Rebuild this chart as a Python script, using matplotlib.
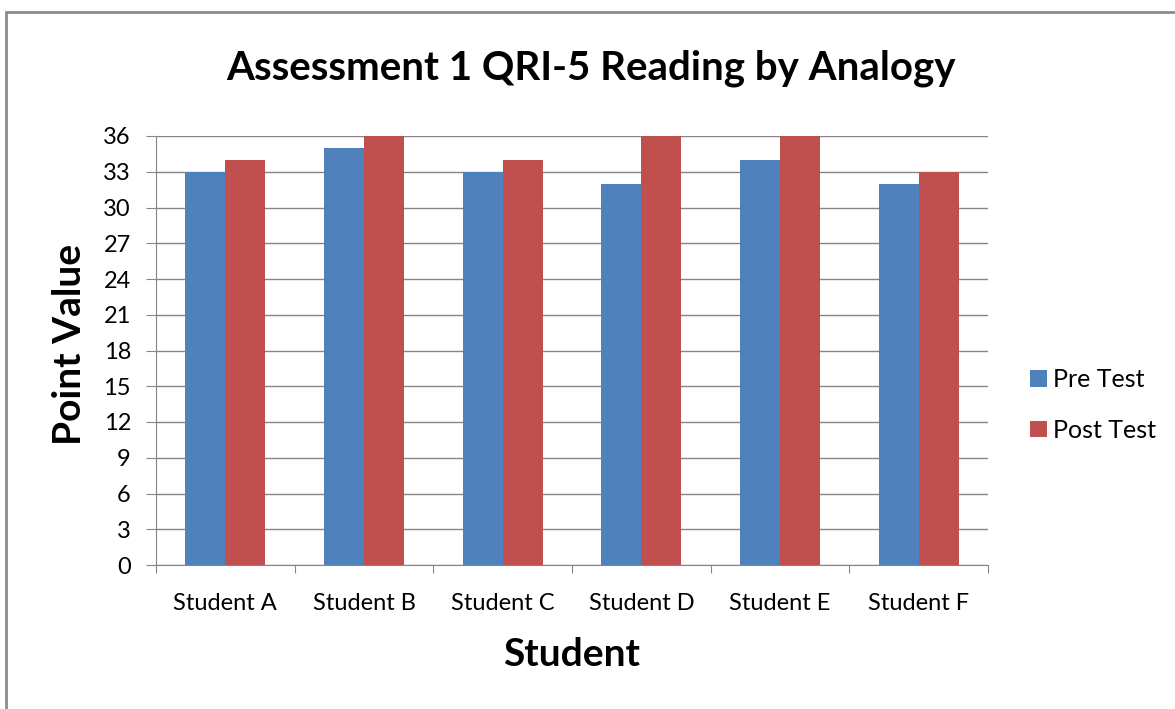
import numpy as np
import matplotlib.pyplot as plt
from matplotlib.patches import Rectangle

students = ['Student A', 'Student B', 'Student C', 'Student D', 'Student E', 'Student F']
pre_test = [33, 35, 33, 32, 34, 32]
post_test = [34, 36, 34, 36, 36, 33]
y_ticks = list(range(0, 37, 3))

plt.rcParams['font.family'] = ['Lato', 'DejaVu Sans']

fig = plt.figure(figsize=(11.75, 7.09), dpi=100)
ax = fig.add_axes([156 / 1175, 1 - 565 / 709, (988 - 156) / 1175, (565 - 136) / 709])

x = np.arange(len(students))
w = 0.288
ax.bar(x - w / 2, pre_test, w, color='#4F81BD', label='Pre Test', zorder=3)
ax.bar(x + w / 2, post_test, w, color='#C0504D', label='Post Test', zorder=3)

ax.set_xlim(-0.5, len(students) - 0.5)
ax.set_ylim(0, 36)
ax.set_yticks(y_ticks)
ax.tick_params(axis='y', labelsize=17, length=7, color='#868686', pad=11)
ax.set_xticks(np.arange(-0.5, len(students), 1))
ax.set_xticklabels([])
ax.tick_params(axis='x', length=6, color='#868686')
ax.set_xticks(x, minor=True)
ax.set_xticklabels(students, minor=True, fontsize=17)
ax.tick_params(axis='x', which='minor', length=0, pad=20)

ax.grid(axis='y', color='#868686', linewidth=1, zorder=0)
for s in ['top', 'right']:
    ax.spines[s].set_visible(False)
for s in ['left', 'bottom']:
    ax.spines[s].set_color('#868686')

ax.set_ylabel('Point Value', fontsize=28, fontweight='bold', labelpad=12)
ax.yaxis.label.set_y(0.513)
ax.set_xlabel('Student', fontsize=28, fontweight='bold', labelpad=17)
fig.text(0.503, 1 - 68 / 709, 'Assessment 1 QRI-5 Reading by Analogy', fontsize=29,
         fontweight='bold', ha='center', va='center')

ax.legend(loc='center left', bbox_to_anchor=(1.036, 0.373), frameon=False, fontsize=18,
          handlelength=0.65, handleheight=0.65, handletextpad=0.25, labelspacing=1.1,
          borderpad=0)

fig.patches.append(Rectangle((6 / 1175, -0.1), 1.2, 1 - 12 / 709 + 0.1, transform=fig.transFigure,
                             fill=False, edgecolor='#8c8c8c', linewidth=2))

fig.savefig('out.png', dpi=100)
